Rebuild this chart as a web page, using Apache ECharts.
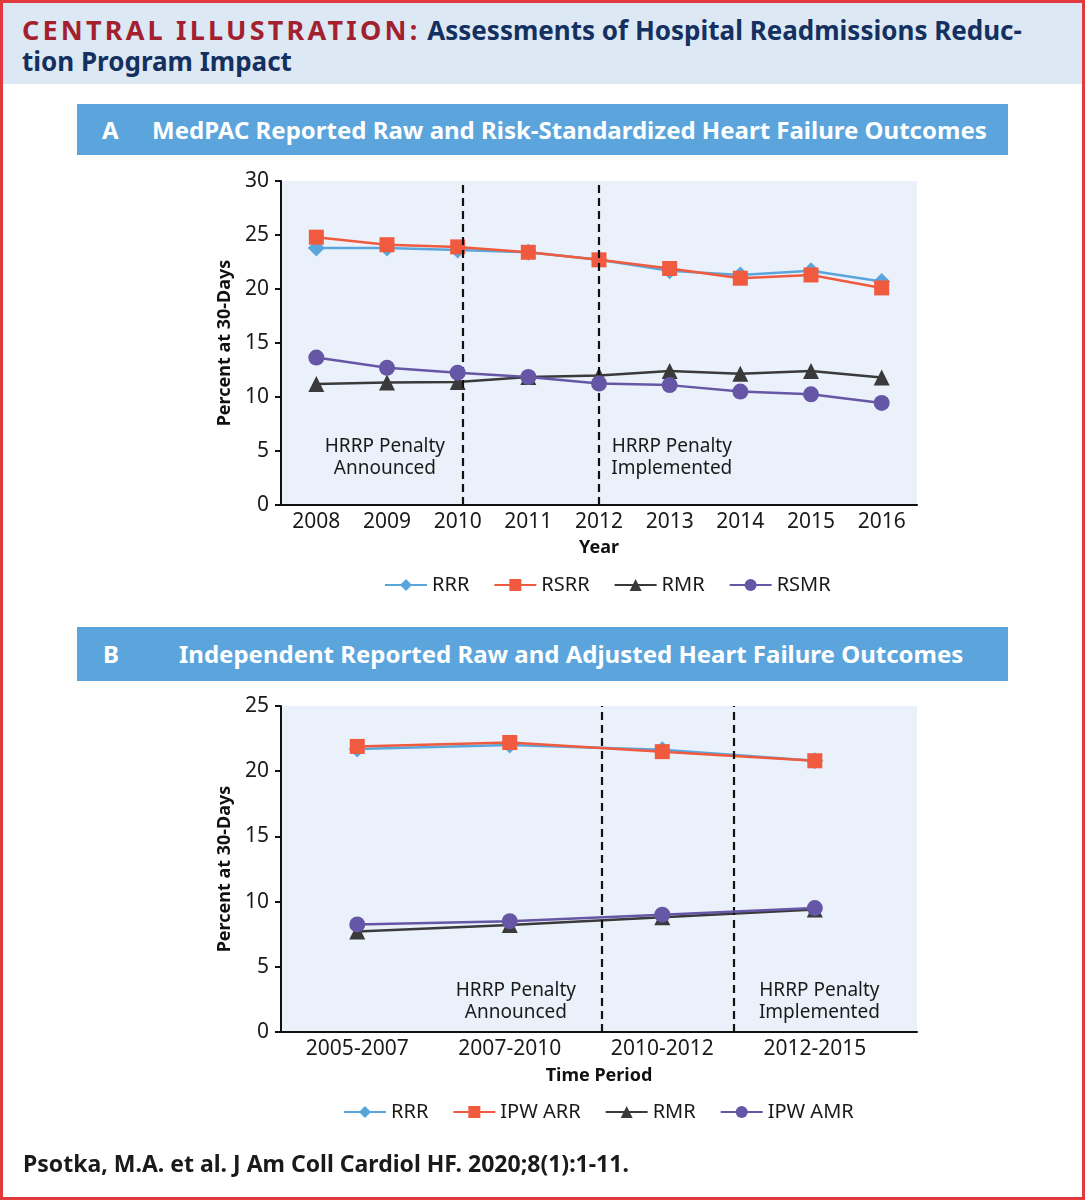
<!DOCTYPE html>
<html><head><meta charset="utf-8">
<script src="https://cdn.jsdelivr.net/npm/echarts@6/dist/echarts.min.js"></script>
<style>
body{margin:0;background:#fff;}
#wrap{position:relative;width:1085px;height:1200px;overflow:hidden;font-family:"Noto Sans",sans-serif;background:#fff;}
#chart{position:absolute;left:0;top:0;width:1085px;height:1200px;}
.hdr{position:absolute;left:0;top:0;width:1085px;height:84px;background:#dde8f5;}
.hdr .t{position:absolute;left:22px;top:14px;font-size:26px;line-height:31px;font-weight:700;color:#14305f;white-space:nowrap;}
.red{color:#a3202f;letter-spacing:3.2px;font-size:27px;}
.bar{position:absolute;left:77px;width:931px;height:51px;background:#5ba5dc;color:#fff;font-weight:700;font-size:24px;line-height:51px;white-space:nowrap;}
.bar span{position:absolute;top:0;}
.foot{position:absolute;left:23px;top:1149px;font-size:23px;line-height:28px;font-weight:700;color:#1a1a1a;white-space:nowrap;}
.frame{position:absolute;left:0;top:0;width:1085px;height:1200px;box-sizing:border-box;border:3px solid #e2393c;pointer-events:none;}
</style></head>
<body>
<div id="wrap">
  <div class="hdr"><div class="t"><span class="red">CENTRAL ILLUSTRATION:</span> Assessments of Hospital Readmissions Reduc-<br>tion Program Impact</div></div>
  <div class="bar" style="top:104px;"><span style="left:25px;">A</span><span style="left:75px;">MedPAC Reported Raw and Risk-Standardized Heart Failure Outcomes</span></div>
  <div class="bar" style="top:627px;height:54px;line-height:54px;"><span style="left:26px;">B</span><span style="left:102px;">Independent Reported Raw and Adjusted Heart Failure Outcomes</span></div>
  <div id="chart"></div>
  <div class="foot">Psotka, M.A. et al. J Am Coll Cardiol HF. 2020;8(1):1-11.</div>
  <div class="frame"></div>
</div>
<script>
// Panel A data
const categoriesA = ['2008','2009','2010','2011','2012','2013','2014','2015','2016'];
const rrrA  = [23.8, 23.8, 23.6, 23.4, 22.7, 21.7, 21.3, 21.7, 20.7];
const rsrrA = [24.8, 24.1, 23.9, 23.4, 22.7, 21.9, 21.0, 21.3, 20.1];
const rmrA  = [11.2, 11.35, 11.4, 11.85, 12.0, 12.4, 12.15, 12.4, 11.8];
const rsmrA = [13.65, 12.7, 12.25, 11.85, 11.25, 11.1, 10.5, 10.25, 9.45];
const penaltyLinesA = [2.07, 4.0];
const notesA = [[0.97, 4.37, 'HRRP Penalty\nAnnounced'], [5.03, 4.37, 'HRRP Penalty\nImplemented']];
const yTicksA = [0, 30, 5];

// Panel B data
const categoriesB = ['2005-2007','2007-2010','2010-2012','2012-2015'];
const rrrB    = [21.7, 22.0, 21.65, 20.8];
const ipwArrB = [21.9, 22.2, 21.5, 20.8];
const rmrB    = [7.7, 8.2, 8.8, 9.4];
const ipwAmrB = [8.25, 8.5, 9.0, 9.5];
const penaltyLinesB = [1.6, 2.47];
const notesB = [[1.04, 2.32, 'HRRP Penalty\nAnnounced'], [3.03, 2.32, 'HRRP Penalty\nImplemented']];
const yTicksB = [0, 25, 5];

const COL = {blue:'#5aa6dc', red:'#f05a3f', black:'#3a3a3a', purple:'#6656a6'};
const FONT = '"Noto Sans", sans-serif';

function lineSeries(name, vals, color, symbol, size, idx, z) {
  return {
    name, type:'line', xAxisIndex:idx, yAxisIndex:idx, z,
    data: vals.map((v,i)=>[i,v]),
    symbol, symbolSize:size,
    itemStyle:{color},
    lineStyle:{color, width:2.5},
    emphasis:{disabled:true}
  };
}
function marks(lines) {
  return {
    symbol:'none', silent:true, label:{show:false},
    lineStyle:{type:[8,5], color:'#111', width:2.2},
    data: lines.map(x=>({xAxis:x}))
  };
}
function notes(data, idx) {
  return {
    type:'scatter', xAxisIndex:idx, yAxisIndex:idx, symbolSize:0, silent:true, z:1,
    itemStyle:{opacity:1},
    data, label:{show:true, position:'inside', formatter:p=>p.data[2], fontFamily:FONT,
      fontSize:19, lineHeight:22, color:'#1a1a1a', opacity:1}
  };
}
function xAxis(idx, cats, min, max, nameTxt, gap) {
  return {
    type:'value', gridIndex:idx, min, max, interval:0.5,
    name:nameTxt, nameLocation:'middle', nameGap:gap,
    nameTextStyle:{fontFamily:FONT, fontSize:18, fontWeight:'bold', color:'#111'},
    axisLine:{show:true, onZero:false, lineStyle:{color:'#111', width:2}},
    axisTick:{show:false}, splitLine:{show:false},
    axisLabel:{fontFamily:FONT, fontSize:21, color:'#1a1a1a', margin:7,
      formatter:v=> (Number.isInteger(v) && cats[v]!==undefined) ? cats[v] : ''}
  };
}
function yAxis(idx, t) {
  return {
    type:'value', gridIndex:idx, min:t[0], max:t[1], interval:t[2],
    name:'Percent at 30-Days', nameLocation:'middle', nameGap:46, nameRotate:90,
    nameTextStyle:{fontFamily:FONT, fontSize:18, fontWeight:'bold', color:'#111'},
    axisLine:{show:true, onZero:false, lineStyle:{color:'#111', width:2}},
    axisTick:{show:true, length:6, lineStyle:{color:'#111', width:2}},
    splitLine:{show:false},
    axisLabel:{fontFamily:FONT, fontSize:21, color:'#1a1a1a', margin:12}
  };
}

const sA = [
  lineSeries('RRR', rrrA, COL.blue, 'diamond', 17, 0, 2),
  lineSeries('RSRR', rsrrA, COL.red, 'rect', 15, 0, 3),
  lineSeries('RMR', rmrA, COL.black, 'triangle', 16, 0, 4),
  lineSeries('RSMR', rsmrA, COL.purple, 'circle', 16, 0, 5)
];
sA[0].markLine = marks(penaltyLinesA);
const sB = [
  lineSeries('RRR ', rrrB, COL.blue, 'diamond', 17, 1, 2),
  lineSeries('IPW ARR', ipwArrB, COL.red, 'rect', 15, 1, 3),
  lineSeries('RMR ', rmrB, COL.black, 'triangle', 16, 1, 4),
  lineSeries('IPW AMR', ipwAmrB, COL.purple, 'circle', 16, 1, 5)
];
sB[0].markLine = marks(penaltyLinesB);

const legendBase = {
  orient:'horizontal', padding:0, itemWidth:42, itemHeight:15, itemGap:24,
  textStyle:{fontFamily:FONT, fontSize:20, color:'#1a1a1a'}, selectedMode:false
};

const chart = echarts.init(document.getElementById('chart'), null, {renderer:'canvas'});
chart.setOption({
  animation:false,
  backgroundColor:'transparent',
  grid:[
    {left:281, right:168, top:181, bottom:695, show:true, backgroundColor:'#eaf1fa', borderWidth:0},
    {left:281, right:168, top:706, bottom:168, show:true, backgroundColor:'#eaf1fa', borderWidth:0}
  ],
  xAxis:[ xAxis(0, categoriesA, -0.5, 8.5, 'Year', 34), xAxis(1, categoriesB, -0.5, 3.67, 'Time Period', 35) ],
  yAxis:[ yAxis(0, yTicksA), yAxis(1, yTicksB) ],
  legend:[
    Object.assign({}, legendBase, {left:384, top:575, data:['RRR','RSRR','RMR','RSMR']}),
    Object.assign({}, legendBase, {left:343, top:1102, data:['RRR ','IPW ARR','RMR ','IPW AMR'],
      formatter:n=>n.trim()})
  ],
  series:[...sA, ...sB, notes(notesA,0), notes(notesB,1)]
});
</script>
</body></html>
